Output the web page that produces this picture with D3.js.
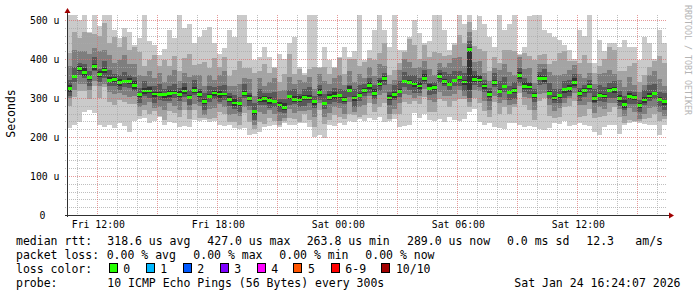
<!DOCTYPE html>
<html lang="en">
<head>
<meta charset="UTF-8">
<title>Smokeping - median rtt</title>
<style>
    body{margin:0;background:#fff;}
    svg{display:block;background:#fff;}
    text{font-family:"DejaVu Sans Mono",monospace;fill:#000;}
    .tick{font-size:9.8px;}
    .legend{font-size:11.5px;}
    .watermark{font-size:8.3px;fill:#b4b4b4;}
    .grid-minor{stroke:rgba(170,170,170,0.75);stroke-dasharray:1,1;}
    .grid-major{stroke:rgba(220,110,110,0.7);stroke-dasharray:1,1;}
</style>
<script src="https://cdn.jsdelivr.net/npm/d3@7"></script>
</head>
<body>
<script>
// 15 minute bins, starting Fri 23 Jan 2026 10:29
const startTime = new Date(2026, 0, 23, 10, 29);
const endTime = new Date(2026, 0, 24, 16, 29);
const stepMinutes = 15;

// median rtt (us)
const median = [325,355,375,365,352,380,360,372,345,347,
    340,342,342,332,308,318,318,310,308,308,
    312,313,309,318,302,320,308,292,303,313,
    310,310,297,287,285,312,298,265,295,298,
    294,292,282,276,303,297,295,302,300,290,
    314,285,302,305,306,296,320,300,306,320,
    332,312,336,350,300,308,316,343,340,336,
    331,351,325,327,355,342,334,345,352,341,
    425,348,346,331,309,340,316,329,314,320,
    358,330,328,307,351,349,311,300,306,321,
    325,340,311,319,329,298,306,305,320,322,
    298,283,303,301,280,295,305,311,297,290];

// sorted pings 1..10 (us)
const ping1 = [222,230,238,265,270,262,232,225,230,222,
    235,228,214,240,245,248,236,240,250,232,
    238,235,226,228,226,244,240,244,238,242,
    230,228,230,222,220,224,205,208,212,226,
    228,232,226,236,230,232,235,236,225,200,
    205,198,232,228,236,232,240,238,245,242,
    248,244,250,238,242,246,226,228,232,262,
    248,258,244,240,246,238,250,244,240,246,
    265,272,238,232,236,226,222,220,235,236,
    232,226,228,226,220,218,222,236,234,240,
    228,232,235,230,228,212,206,225,232,230,
    208,232,236,238,236,234,232,230,206,232];
const ping2 = [279,303,317,317,297,330,300,328,289,283,
    294,290,284,284,253,268,258,266,254,244,
    266,261,251,270,247,270,248,248,247,249,
    264,258,239,239,230,262,238,221,239,234,
    248,240,230,240,248,247,239,258,244,226,
    268,233,244,257,251,246,260,256,250,256,
    286,264,276,286,246,258,260,291,285,292,
    285,303,265,263,297,292,278,293,297,297,
    278,300,286,267,251,290,260,277,259,276,
    312,282,268,243,293,299,255,248,251,277,
    279,292,251,255,271,248,250,253,265,278,
    252,236,243,242,240,245,249,259,242,246];
const ping3 = [299,321,335,337,320,344,331,337,315,309,
    314,308,302,304,276,282,289,275,278,270,
    286,279,269,290,270,284,279,257,273,275,
    284,276,257,259,253,276,269,230,265,260,
    268,258,242,248,271,261,266,267,270,252,
    288,251,262,277,274,260,291,265,276,282,
    306,284,307,312,260,272,286,309,308,301,
    305,323,296,289,315,306,304,311,320,306,
    290,320,317,293,269,304,286,295,282,285,
    332,302,299,269,311,313,281,266,274,286,
    299,312,282,281,289,262,276,271,288,287,
    272,255,274,263,246,259,275,277,265,255];
const ping4 = [306,341,358,350,332,368,342,350,332,331,
    321,328,325,317,288,306,300,288,295,292,
    293,299,292,303,282,308,290,270,290,297,
    291,296,280,272,265,300,280,243,282,282,
    275,278,265,261,283,285,277,280,287,274,
    295,271,285,290,286,284,302,278,293,304,
    313,297,318,334,283,296,303,329,320,314,
    312,336,307,311,338,330,321,331,332,319,
    300,333,328,315,292,328,303,315,294,298,
    339,315,310,291,334,337,298,286,286,299,
    306,325,293,303,312,286,293,291,300,300,
    279,268,285,285,263,283,292,297,277,268];
const ping5 = [316,351,369,357,347,373,355,364,341,340,
    331,338,336,324,303,311,313,302,304,301,
    303,309,303,310,297,313,303,284,299,306,
    301,306,291,279,280,305,293,257,291,291,
    285,288,276,268,298,290,290,294,296,283,
    305,281,296,297,301,289,315,292,302,313,
    323,304,331,343,294,301,312,339,335,328,
    322,343,320,320,349,335,330,341,347,333,
    320,340,341,324,303,333,312,325,309,312,
    349,322,323,300,345,342,307,296,301,313,
    316,332,306,312,323,291,302,301,315,314,
    289,275,298,294,274,288,301,307,292,282];
const ping6 = [334,359,383,376,357,387,370,377,353,353,
    349,346,350,343,313,325,328,315,316,314,
    321,317,317,329,307,327,318,297,311,319,
    319,314,305,298,290,319,308,270,303,304,
    303,296,290,287,308,304,305,307,308,296,
    323,289,310,316,311,303,330,305,314,326,
    341,323,346,356,308,315,324,347,345,341,
    340,362,335,333,363,349,342,349,357,346,
    432,359,356,337,317,347,324,333,319,325,
    367,341,338,313,359,356,319,304,311,326,
    334,351,321,325,337,305,314,309,325,327,
    307,294,313,307,288,302,313,315,302,295];
const ping7 = [345,379,391,386,370,405,374,394,373,362,
    360,366,358,353,326,343,332,332,336,323,
    332,337,325,339,320,345,322,314,331,328,
    330,334,313,308,303,337,312,287,323,313,
    314,316,298,297,321,322,309,324,328,305,
    334,309,318,326,324,321,334,322,334,335,
    352,333,350,365,316,333,344,367,358,358,
    351,372,339,342,371,367,362,369,370,363,
    445,369,360,346,325,365,344,353,332,342,
    378,351,342,322,367,374,339,324,324,343,
    345,361,325,334,345,323,334,329,338,344,
    318,304,317,316,296,320,333,335,315,312];
const ping8 = [383,423,420,420,414,428,420,422,410,389,
    398,410,387,387,360,356,368,350,363,340,
    360,371,344,363,354,358,358,332,358,345,
    358,368,332,332,337,350,348,305,350,330,
    342,350,317,321,355,335,345,342,355,322,
    362,343,337,350,358,334,370,340,361,352,
    380,357,386,382,335,346,371,401,392,376,
    379,396,375,359,390,380,389,403,404,381,
    470,393,396,363,344,378,371,387,366,360,
    406,375,378,339,386,387,366,358,358,361,
    373,385,361,351,364,336,361,363,372,362,
    346,328,353,333,315,333,360,369,349,330];
const ping9 = [415,470,455,470,466,465,460,492,440,457,
    430,457,422,431,418,383,398,410,383,398,
    382,408,369,403,412,385,388,392,378,403,
    380,405,357,372,395,377,378,365,370,388,
    364,376,342,361,413,362,375,359,375,380,
    376,380,362,376,402,361,400,400,381,393,
    402,397,416,440,360,373,391,419,450,436,
    401,436,405,417,415,407,409,436,462,441,
    495,433,426,421,369,405,391,424,424,420,
    410,415,408,397,411,414,386,395,416,421,
    395,396,391,409,389,363,381,400,430,422,
    368,368,383,391,340,360,380,396,407,390];
const ping10 = [513,513,500,513,470,513,485,513,513,475,
    455,480,470,435,455,513,445,435,410,425,
    475,455,513,480,491,440,457,474,483,440,
    414,427,474,457,513,513,440,397,406,430,
    406,380,414,400,440,457,380,363,513,513,
    380,432,397,380,406,430,406,420,513,397,
    423,474,513,474,430,513,423,423,457,500,
    466,440,445,513,513,474,423,440,513,491,
    513,474,509,490,457,430,513,474,491,513,
    414,430,509,513,513,474,466,457,449,435,
    423,400,474,460,513,389,449,420,440,440,
    432,449,430,432,397,457,440,400,474,440];

const yTicks = [0, 100, 200, 300, 400, 500];
const yTickLabels = ["0", "100 u", "200 u", "300 u", "400 u", "500 u"];
const xLabelTimes = [new Date(2026,0,23,12), new Date(2026,0,23,18), new Date(2026,0,24,0),
    new Date(2026,0,24,6), new Date(2026,0,24,12)];
const xLabels = ["Fri 12:00", "Fri 18:00", "Sat 00:00", "Sat 06:00", "Sat 12:00"];

const rttStats = ["318.6 us avg", "427.0 us max", "263.8 us min", "289.0 us now", "0.0 ms sd", "12.3", "am/s"];
const lossStats = ["0.00 % avg", "0.00 % max", "0.00 % min", "0.00 % now"];
const lossNames = ["0", "1", "2", "3", "4", "5", "6-9", "10/10"];
const lossColors = ["#26ff00", "#00b8ff", "#0059ff", "#7e00ff", "#ff00ff", "#ff5500", "#ff0000", "#a10000"];
const probeText = "10 ICMP Echo Pings (56 Bytes) every 300s";
const stampText = "Sat Jan 24 16:24:07 2026";

const width = 697, height = 297;
const plot = {left: 67, right: 667, top: 15, bottom: 215};

const svg = d3.select("body").append("svg")
    .attr("width", width).attr("height", height)
    .attr("viewBox", `0 0 ${width} ${height}`);

const x = d3.scaleTime().domain([startTime, endTime]).range([plot.left, plot.right]);
const y = d3.scaleLinear().domain([0, 512.8]).range([plot.bottom, plot.top]);

svg.append("defs").append("clipPath").attr("id", "plotclip")
    .append("rect")
    .attr("x", plot.left).attr("y", plot.top)
    .attr("width", plot.right - plot.left).attr("height", plot.bottom - plot.top);

const times = median.map((d, i) => d3.timeMinute.offset(startTime, i * stepMinutes));

// smoke: pairs of pings, outer first
const bands = [
    {lo: ping1, hi: ping10, color: "#cacaca"},
    {lo: ping2, hi: ping9, color: "#a4a4a4"},
    {lo: ping3, hi: ping8, color: "#7e7e7e"},
    {lo: ping4, hi: ping7, color: "#585858"},
    {lo: ping5, hi: ping6, color: "#323232"}
];

const withEnd = arr => {
    const rows = arr.map((d, i) => ({t: times[i], lo: d.lo, hi: d.hi}));
    rows.push({t: endTime, lo: rows[rows.length - 1].lo, hi: rows[rows.length - 1].hi});
    return rows;
};

const areaGen = d3.area()
    .curve(d3.curveStepAfter)
    .x(d => x(d.t))
    .y0(d => y(d.lo))
    .y1(d => y(d.hi));

const dataLayer = svg.append("g").attr("clip-path", "url(#plotclip)");

dataLayer.selectAll("path.smoke")
    .data(bands)
    .enter()
    .append("path")
    .attr("class", "smoke")
    .attr("fill", d => d.color)
    .attr("shape-rendering", "crispEdges")
    .attr("d", b => areaGen(withEnd(b.lo.map((v, i) => ({lo: v, hi: b.hi[i]})))));

// median drawn as a thin band, like smokeping does
const medArea = d3.area()
    .curve(d3.curveStepAfter)
    .x(d => x(d.t))
    .y0(d => y(d.lo) + 1.4)
    .y1(d => y(d.hi) - 1.4);

dataLayer.append("path")
    .attr("fill", lossColors[0])
    .attr("shape-rendering", "crispEdges")
    .attr("d", medArea(withEnd(median.map(m => ({lo: m, hi: m})))));

// grid on top of data
const grid = svg.append("g");
const minorY = d3.range(20, 501, 20).filter(v => v % 100 !== 0);
grid.selectAll("line.hminor").data(minorY).enter().append("line")
    .attr("class", "grid-minor")
    .attr("x1", plot.left - 2).attr("x2", plot.right)
    .attr("y1", d => Math.round(y(d)) + 0.5).attr("y2", d => Math.round(y(d)) + 0.5);
grid.selectAll("line.hmajor").data(yTicks.filter(v => v > 0)).enter().append("line")
    .attr("class", "grid-major")
    .attr("x1", plot.left - 2).attr("x2", plot.right)
    .attr("y1", d => Math.round(y(d)) + 0.5).attr("y2", d => Math.round(y(d)) + 0.5);

const hours = d3.timeHour.range(d3.timeHour.ceil(startTime), endTime);
grid.selectAll("line.vgrid").data(hours).enter().append("line")
    .attr("class", d => d.getHours() % 3 === 0 ? "grid-major" : "grid-minor")
    .attr("x1", d => Math.round(x(d)) + 0.5).attr("x2", d => Math.round(x(d)) + 0.5)
    .attr("y1", plot.top).attr("y2", plot.bottom + 2);

// axes
const axisColor = "#303030", arrowColor = "#a00000";
svg.append("line")
    .attr("x1", plot.left - 2).attr("x2", plot.right + 3)
    .attr("y1", plot.bottom + 0.5).attr("y2", plot.bottom + 0.5)
    .attr("stroke", axisColor);
svg.append("line")
    .attr("x1", plot.left + 0.5).attr("x2", plot.left + 0.5)
    .attr("y1", plot.bottom + 2).attr("y2", plot.top - 3)
    .attr("stroke", axisColor);
svg.append("path")
    .attr("d", `M${plot.right + 7},${plot.bottom + 0.5} L${plot.right + 2},${plot.bottom - 2.5} L${plot.right + 2},${plot.bottom + 3.5} Z`)
    .attr("fill", arrowColor);
svg.append("path")
    .attr("d", `M${plot.left + 0.5},${plot.top - 7} L${plot.left - 2.5},${plot.top - 2} L${plot.left + 3.5},${plot.top - 2} Z`)
    .attr("fill", arrowColor);

// y tick labels
svg.selectAll("text.ylab").data(yTicks).enter().append("text")
    .attr("class", "tick")
    .attr("text-anchor", "end")
    .attr("x", (d, i) => yTickLabels[i].endsWith(" u") ? 59.5 : 45.5)
    .attr("y", d => y(d) + 3.6)
    .text((d, i) => yTickLabels[i]);

// x tick labels
svg.selectAll("text.xlab").data(xLabelTimes).enter().append("text")
    .attr("class", "tick")
    .attr("text-anchor", "middle")
    .attr("x", d => x(d) + 1)
    .attr("y", 228)
    .text((d, i) => xLabels[i]);

svg.append("text")
    .attr("class", "legend")
    .attr("text-anchor", "middle")
    .attr("transform", "translate(15,113.5) rotate(-90)")
    .text("Seconds");

svg.append("text")
    .attr("class", "watermark")
    .attr("transform", "translate(684.5,5) rotate(90)")
    .text("RRDTOOL / TOBI OETIKER");

// legend
const legend = svg.append("g").attr("class", "legend");
const addText = (tx, ty, s) => legend.append("text").attr("class", "legend")
    .attr("x", tx).attr("y", ty).attr("xml:space", "preserve").text(s);

addText(16, 245, "median rtt:");
[107.3, 207.3, 306.7, 407, 507, 586.3, 635.3].forEach((px, i) => addText(px, 245, rttStats[i]));

addText(16, 259, "packet loss:");
[106.7, 193.3, 279.3, 365.3].forEach((px, i) => addText(px, 259, lossStats[i]));

addText(16, 273, "loss color:");
const boxX = [108.7, 145.7, 182.7, 219.7, 256.7, 293.3, 330.7, 381.3];
lossNames.forEach((name, i) => {
    legend.append("rect")
        .attr("x", Math.round(boxX[i]) + 0.5).attr("y", 263.5)
        .attr("width", 8).attr("height", 9)
        .attr("fill", lossColors[i])
        .attr("stroke", "#000");
    addText(boxX[i] + 14.6, 273, name);
});

addText(16, 287, "probe:");
addText(107.3, 287, probeText);
legend.append("text").attr("class", "legend")
    .attr("x", 680.5).attr("y", 287).attr("text-anchor", "end")
    .text(stampText);
</script>
</body>
</html>
